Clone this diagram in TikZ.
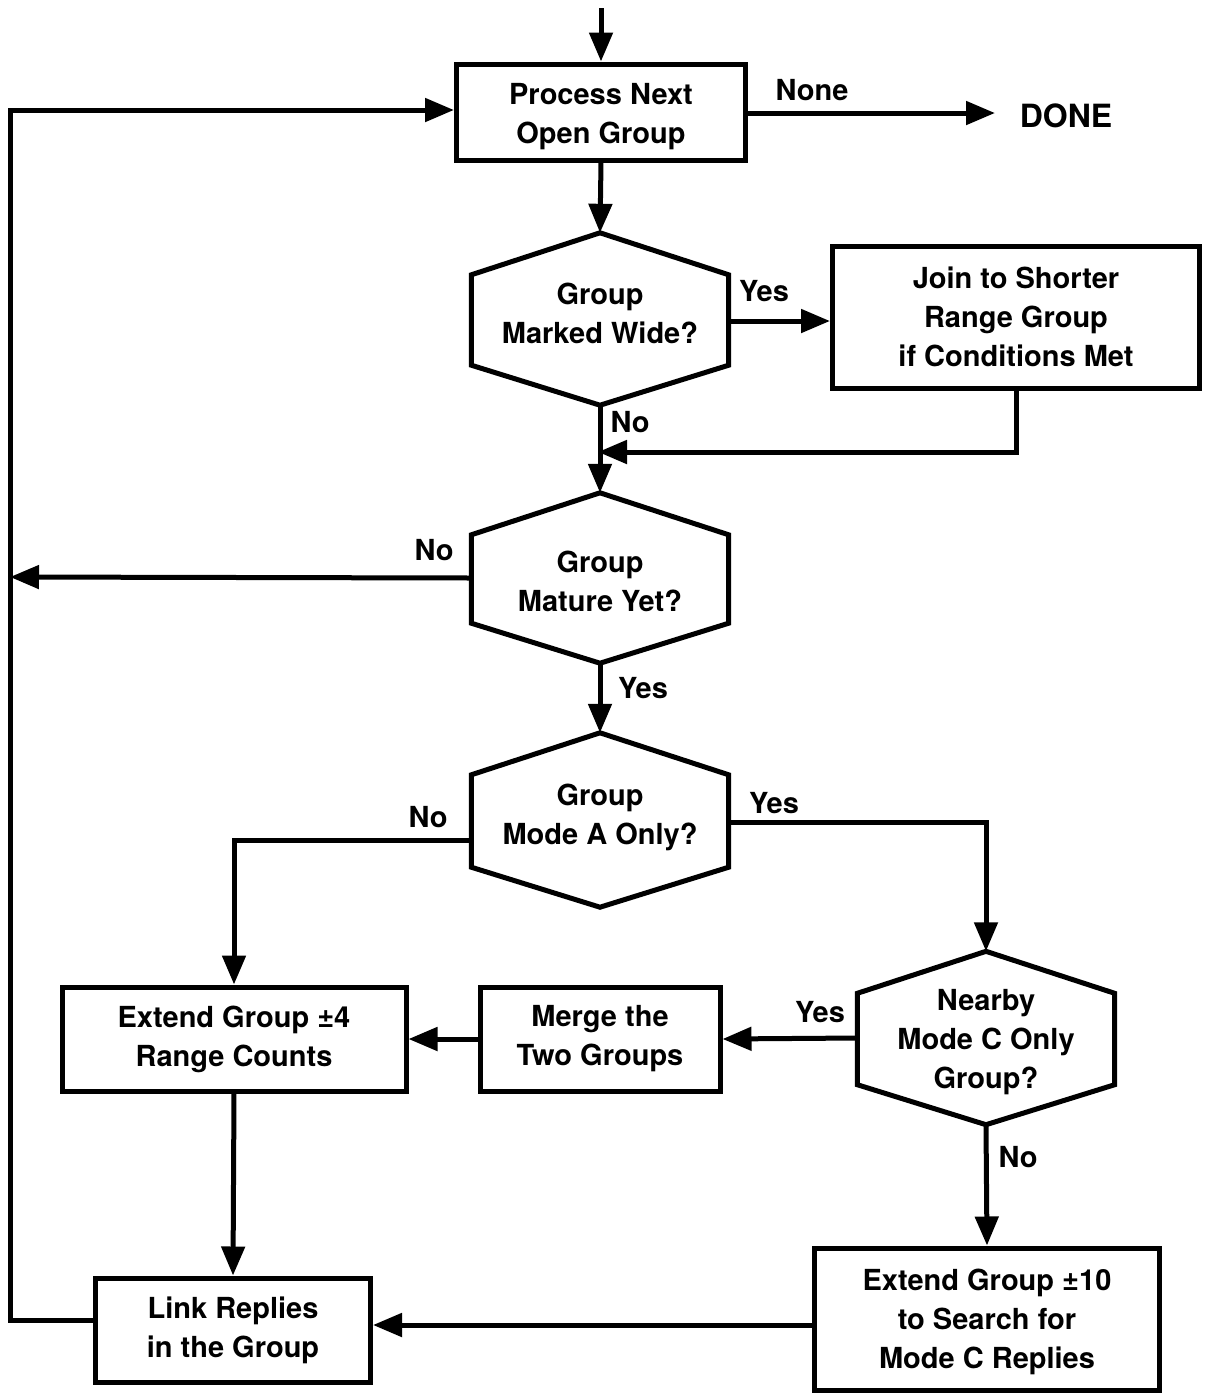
\documentclass[tikz,border=0pt]{standalone}
\usepackage{fontspec}
\setmainfont{TeX Gyre Heros}
\usetikzlibrary{arrows.meta,calc}
\begin{document}
\begin{tikzpicture}[x=1pt,y=-1pt,
  every node/.style={font=\fontsize{29}{39}\selectfont\bfseries},
  boxnode/.style={draw,line width=5pt,align=center,inner sep=0pt},
  hexnode/.style={align=center,inner sep=0pt},
  lbl/.style={inner sep=0pt},
  conn/.style={line width=5pt},
  arr/.style={conn,-{Triangle[length=29pt,width=23pt]}}]
\path[use as bounding box] (0,0) rectangle (1206,1393);

\newcommand{\hexdraw}[1]{%
  \draw[line width=5pt,line join=miter] (#1.north)
    -- ([yshift=-42pt]#1.north east) -- ([yshift=40pt]#1.south east)
    -- (#1.south) -- ([yshift=40pt]#1.south west)
    -- ([yshift=-42pt]#1.north west) -- cycle;}
\newcommand{\up}[1]{\rule{0pt}{#1}}
\newcommand{\dn}[1]{\rule[-#1]{0pt}{1pt}}

% nodes
\node[boxnode,minimum width=289pt,minimum height=96pt] (b1) at (601,112) {\up{31pt}Process Next\\Open Group};
\node[lbl,font=\fontsize{32}{38}\selectfont\bfseries] (done) at (1066,116) {DONE};
\node[hexnode,minimum width=257pt,minimum height=172pt] (h1) at (600,319) {Group\\Marked Wide?\dn{12pt}};
\node[boxnode,minimum width=367pt,minimum height=142pt] (b2) at (1016,317) {Join to Shorter\\Range Group\\if Conditions Met};
\node[hexnode,minimum width=257pt,minimum height=170pt] (h2) at (600,578) {\up{28pt}Group\\Mature Yet?};
\node[hexnode,minimum width=257pt,minimum height=174pt] (h3) at (600,820) {Group\\Mode A Only?\dn{12pt}};
\node[hexnode,minimum width=257pt,minimum height=173pt] (h4) at (986,1038) {\up{29pt}Nearby\\Mode C Only\\Group?};
\node[boxnode,minimum width=240pt,minimum height=104pt] (b3) at (600,1039) {Merge the\\Two Groups};
\node[boxnode,minimum width=344pt,minimum height=104pt] (b4) at (234,1039) {Extend Group ±4\\Range Counts};
\node[boxnode,minimum width=345pt,minimum height=142pt] (b5) at (987,1319) {\up{27pt}Extend Group ±10\\to Search for\\Mode C Replies};
\node[boxnode,minimum width=275pt,minimum height=104pt] (b6) at (233,1330) {Link Replies\\in the Group};

\hexdraw{h1}
\hexdraw{h2}
\hexdraw{h3}
\hexdraw{h4}

% coordinates
\coordinate (start) at (601,8);
\coordinate (doneend) at (995,113);
\coordinate (merge) at (598,452);
\coordinate (leftbus) at (10,577);

% connectors
\draw[arr] (start) -- (b1.north);
\draw[arr] (b1.east |- doneend) -- (doneend);
\draw[arr] (b1.south) -- (h1.north);
\draw[arr] (h1.east |- 0,321) -- (b2.west |- 0,321);
\draw[arr] (b2.south) |- (merge);
\draw[arr] (h1.south) -- (h2.north);
\draw[arr] (h2.west) -- (leftbus);
\draw[arr] (h2.south) -- (h3.north);
\draw[arr] (h3.west |- 0,840) -| (b4.north);
\draw[arr] (h3.east |- 0,822) -| (h4.north);
\draw[arr] (h4.west) -- (b3.east);
\draw[arr] (b3.west) -- (b4.east);
\draw[arr] (b4.south) -- (b6.north);
\draw[arr] (h4.south) -- (b5.north);
\draw[arr] (b5.west |- 0,1325) -- (b6.east |- 0,1325);
\draw[arr] (b6.west |- 0,1320) -| (10,700) |- (b1.west |- 0,110);

% labels
\node[lbl] (lnone) at (812,90) {None};
\node[lbl] (ly1) at (764,291) {Yes};
\node[lbl] (ln1) at (630,422) {No};
\node[lbl] (ln2) at (434,550) {No};
\node[lbl] (ly2) at (643,688) {Yes};
\node[lbl] (ln3) at (428,817) {No};
\node[lbl] (ly3) at (774,803) {Yes};
\node[lbl] (ly4) at (820,1012) {Yes};
\node[lbl] (ln4) at (1018,1157) {No};
\end{tikzpicture}
\end{document}
